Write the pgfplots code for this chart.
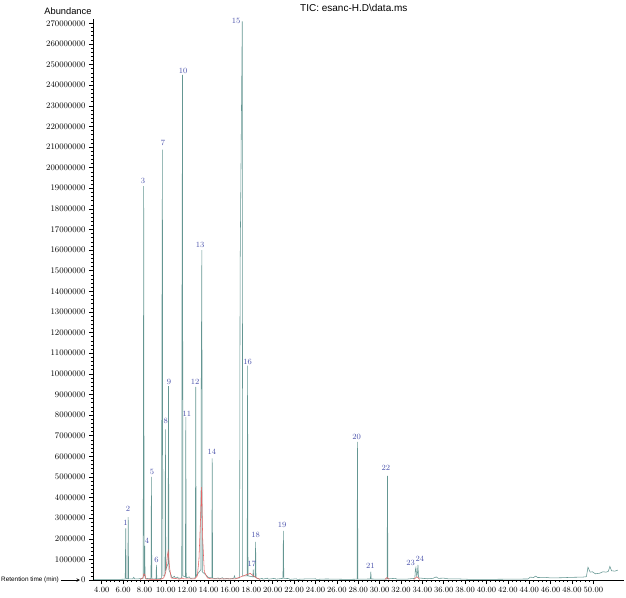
\documentclass[border=0pt]{standalone}
\usepackage{pgfplots}
\pgfplotsset{compat=1.18}
\usepackage{fontspec}
\newfontfamily\arialfont{Liberation Sans}
\definecolor{trace}{RGB}{100,150,146}
\definecolor{peaklab}{RGB}{72,80,170}
\definecolor{redtrace}{RGB}{228,100,100}

\begin{document}
\begin{tikzpicture}
\begin{axis}[
  scale only axis,
  width=531pt, height=560.8pt,
  xmin=3.186, xmax=52.87,
  ymin=0, ymax=272,
  axis lines*=left,
  axis line style={black, line width=0.6pt},
  clip=false,
  xtick={4,6,...,50},
  minor x tick num=4,
  xticklabel style={font=\fontsize{8.5}{10}\selectfont, /pgf/number format/.cd, fixed, fixed zerofill, precision=2},
  ytick={0,10,...,270},
  minor y tick num=4,
  yticklabels={0,1000000,2000000,3000000,4000000,5000000,6000000,7000000,8000000,9000000,10000000,11000000,12000000,13000000,14000000,15000000,16000000,17000000,18000000,19000000,200000000,210000000,220000000,230000000,240000000,250000000,260000000,270000000},
  yticklabel style={font=\fontsize{8.5}{10}\selectfont},
  tick align=outside,
  major tick length=4pt,
  minor tick length=2.2pt,
  tick style={black, line width=0.5pt},
  scaled y ticks=false,
]
% main TIC trace (abundance in millions)
\addplot[trace, line width=0.55pt] coordinates {
(3.3,0.3) (5.5,0.3) (6.2,0.4) (6.25,25) (6.29,0.6) (6.44,0.6) (6.48,30.5) (6.52,0.5)
(6.9,0.5) (7.0,1.3) (7.08,0.5) (7.3,0.5) (7.88,0.8) (7.93,191) (7.97,2) (8.0,2) (8.03,16.5) (8.06,0.8)
(8.61,0.6) (8.65,50) (8.69,0.6) (9.08,0.5) (9.12,7.3) (9.16,0.5) (9.6,0.8) (9.63,110)
(9.68,208.7) (9.72,2) (9.92,2) (9.96,73) (10.0,5) (10.21,8) (10.25,94) (10.29,5) (10.6,1)
(10.8,1.8) (10.9,0.8) (11.1,1.4) (11.2,0.8) (11.49,1) (11.51,130) (11.56,245) (11.6,2)
(11.83,1.5) (11.87,79) (11.91,1) (12.2,1.5) (12.3,0.8) (12.76,1) (12.8,93.7) (12.84,2)
(13.28,5) (13.31,90) (13.37,160) (13.41,4) (14.0,1.2) (14.3,1) (14.34,59) (14.38,1)
(14.6,0.6) (14.9,1) (15.0,0.5) (15.3,1.1) (15.4,0.5) (15.8,0.8) (15.9,0.5) (16.35,0.8)
(16.42,2) (16.5,0.8) (16.9,1) (16.95,150) (17.15,271) (17.19,2) (17.61,2) (17.65,104)
(17.69,2) (18.14,1.5) (18.18,5) (18.22,1.5) (18.36,1.5) (18.4,18.5) (18.44,1) (18.8,0.5)
(19.0,0.8) (19.1,0.4) (19.5,0.9) (19.6,0.4) (20.2,0.8) (20.3,0.4) (20.96,0.8) (21.0,23.8)
(21.04,0.8) (21.5,0.7) (21.6,0.3) (22.2,0.6) (22.3,0.3) (23.0,0.5) (24.0,0.6) (24.1,0.3)
(25.0,0.5) (26.0,0.4) (27.0,0.3) (27.89,0.4) (27.93,67) (27.97,0.4) (29.14,0.5) (29.18,4)
(29.22,0.5) (30.0,0.4) (30.7,0.5) (30.74,50.5) (30.78,0.6) (31.5,0.8) (31.6,0.4) (32.5,0.4)
(33.3,0.8) (33.35,5) (33.4,6) (33.47,2) (33.54,3) (33.59,7.3) (33.65,1) (34.5,0.6) (35.0,0.8)
(35.3,1.5) (35.5,0.8) (36.0,0.9) (36.5,0.5) (37.5,0.5) (38.5,0.3) (40,0.3) (42,0.4)
(43.9,0.5) (44.1,1.4) (44.4,1.2) (44.6,1.9) (44.8,1.2) (45.5,1.3) (46.0,1.0) (47.0,1.1)
(48.0,1.3) (49.0,1.4) (49.35,1.6) (49.5,6.2) (49.7,3.8) (49.9,4.0) (50.2,3.0) (50.6,3.3)
(50.9,4.0) (51.2,3.8) (51.4,4.2) (51.55,6.6) (51.7,4.5) (52.0,4.3) (52.3,4.8)
};
% red trace segments
\addplot[redtrace, line width=0.55pt] coordinates {
(7.6,0.2) (7.85,1) (7.95,3) (8.05,2.5) (8.15,0.4) (9.5,0.3) (9.8,1) (10.0,4) (10.15,12)
(10.22,14) (10.35,6) (10.5,1) (11.3,0.4) (11.5,1) (11.7,0.5) (12.7,0.5) (12.95,2) (13.1,10)
(13.25,30) (13.35,45) (13.45,20) (13.6,4) (13.9,1) (14.3,0.5) (16.5,0.5) (17,1.5) (17.5,2.5)
(17.9,3.2) (18.2,2) (18.5,1) (18.8,0.3)
};
\addplot[redtrace, line width=0.55pt] coordinates {(30.5,0.3) (30.7,1.2) (30.9,0.3)};
\addplot[redtrace, line width=0.55pt] coordinates {(33.2,0.3) (33.5,1.6) (33.75,0.3)};
% peak numbers
\addplot[draw=none, mark=none, nodes near coords, point meta=explicit symbolic,
  nodes near coords style={anchor=center, text=peaklab, font=\fontsize{8}{9}\selectfont, inner sep=0pt}]
  table[meta=lab] {
x y lab
6.23 27.6 1
6.46 34.4 2
7.86 193.5 3
8.24 18.9 4
8.71 52.4 5
9.13 9.7 6
9.74 212 7
9.99 77 8
10.30 96 9
11.61 246.8 10
11.98 80.5 11
12.73 96 12
13.22 162.5 13
14.32 62 14
16.57 271 15
17.66 105.7 16
18.06 7.8 17
18.41 21.8 18
20.87 26.7 19
27.86 69.3 20
29.13 6.8 21
30.60 54.3 22
32.91 8.2 23
33.78 10.2 24
};
\node[anchor=base west, font=\arialfont\fontsize{10}{12}\selectfont, inner sep=0pt]
  at ([xshift=207pt, yshift=7.5pt]rel axis cs:0,1) {TIC: esanc-H.D\textbackslash data.ms};
\node[anchor=base east, font=\arialfont\fontsize{9.3}{11}\selectfont, inner sep=0pt]
  at ([xshift=-1.3pt, yshift=5pt]rel axis cs:0,1) {Abundance};
\node[anchor=east, font=\arialfont\fontsize{6.4}{8}\selectfont, inner sep=0pt]
  at ([xshift=-34pt]rel axis cs:0,0) {Retention time (min)};
\draw[-stealth, line width=0.6pt] ([xshift=-32pt]rel axis cs:0,0) -- ([xshift=-13pt]rel axis cs:0,0);
\end{axis}
\pgfresetboundingbox
\path[use as bounding box] (-93pt,-17pt) rectangle (533pt,580pt);
\end{tikzpicture}
\end{document}
